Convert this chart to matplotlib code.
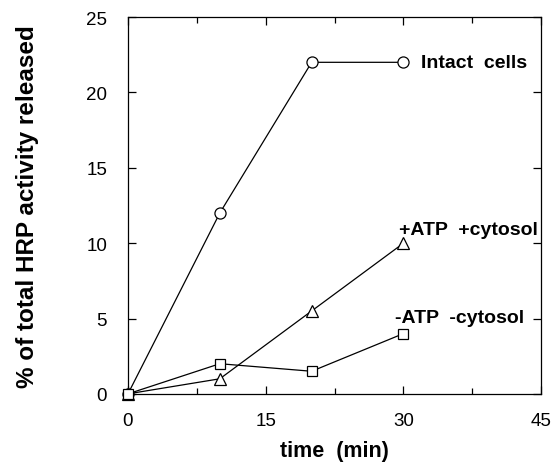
import matplotlib
matplotlib.use("Agg")
import matplotlib.pyplot as plt
from matplotlib.ticker import MultipleLocator

plt.rcParams['font.family'] = ['Liberation Sans', 'DejaVu Sans']

time_min = [0, 10, 20, 30]
intact = [0, 12, 22, 22]
atp_cyt = [0, 1, 5.5, 10]
no_atp_cyt = [0, 2, 1.5, 4]

fig = plt.figure(figsize=(5.54, 4.64), dpi=100)
ax = fig.add_axes([0.231, 0.149, 0.746, 0.812])

ms = 8
ax.plot(time_min, intact, color='black', lw=0.9, marker='o', ms=ms,
        mfc='white', mec='black', mew=0.9, clip_on=False, zorder=3)
ax.plot(time_min, atp_cyt, color='black', lw=0.9, marker='^', ms=ms,
        mfc='white', mec='black', mew=0.9, clip_on=False, zorder=3)
ax.plot(time_min, no_atp_cyt, color='black', lw=0.9, marker='s', ms=ms - 0.5,
        mfc='white', mec='black', mew=0.9, clip_on=False, zorder=4)

ax.text(31.9, 22, "Intact  cells", fontsize=14, fontweight='bold', ha='left', va='center')
ax.text(44.6, 10.9, "+ATP  +cytosol", fontsize=14, fontweight='bold', ha='right', va='center')
ax.text(29.1, 5.1, "-ATP  -cytosol", fontsize=14, fontweight='bold', ha='left', va='center')

ax.set_xlim(0, 45)
ax.set_ylim(0, 25)
ax.xaxis.set_major_locator(MultipleLocator(15))
ax.xaxis.set_minor_locator(MultipleLocator(7.5))
ax.yaxis.set_major_locator(MultipleLocator(5))

ax.tick_params(which='both', direction='in', top=True, right=True, width=0.9)
ax.tick_params(which='major', length=6, labelsize=13.5)
ax.tick_params(which='minor', length=4)
ax.tick_params(axis='x', pad=13)
ax.tick_params(axis='y', pad=15)
for s in ax.spines.values():
    s.set_linewidth(0.9)

ax.set_xlabel("time  (min)", fontsize=15.5, fontweight='bold')
ax.set_ylabel("% of total HRP activity released", fontsize=17.5, fontweight='bold')
ax.yaxis.set_label_coords(-0.215, 0.5)
ax.xaxis.set_label_coords(0.5, -0.123)

fig.savefig("out.png", dpi=100)
